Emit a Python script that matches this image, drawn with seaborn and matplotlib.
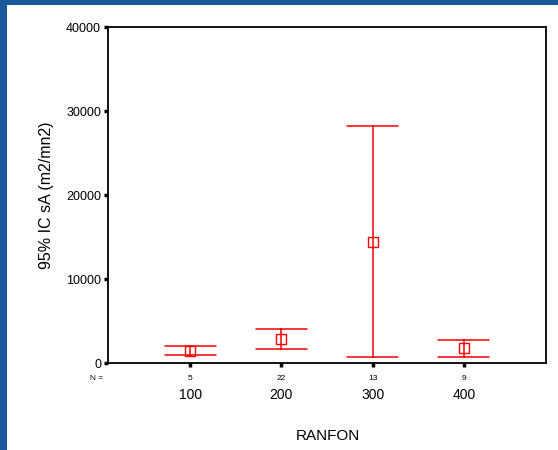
import matplotlib
matplotlib.use("Agg")
import matplotlib.pyplot as plt
import matplotlib.patches as mpatches
import seaborn as sns
import pandas as pd

# values: 95% CI lower, mean, upper per group
groups = ["100", "200", "300", "400"]
counts = [5, 22, 13, 9]
ci_low = [1000, 1700, 700, 750]
means = [1450, 2800, 14400, 1800]
ci_high = [2000, 4050, 28200, 2700]
y_ticks = [0, 10000, 20000, 30000, 40000]

# three rows per group; median + full range gives back mean and CI ends
rows = []
for g, lo, m, hi in zip(groups, ci_low, means, ci_high):
    for v in (lo, m, hi):
        rows.append({"RANFON": g, "sA": v})
df = pd.DataFrame(rows)

sns.set_theme(style="white")
plt.rcParams["font.family"] = ["Liberation Sans", "DejaVu Sans"]
plt.rcParams["text.color"] = "black"
plt.rcParams["axes.labelcolor"] = "black"
plt.rcParams["xtick.color"] = "black"
plt.rcParams["ytick.color"] = "black"

fig = plt.figure(figsize=(5.58, 4.5), dpi=100)
fig.patch.set_facecolor("#1b5a9a")
fig.add_artist(mpatches.Rectangle((0.0125, 0), 0.9875, 0.989, transform=fig.transFigure,
                                  facecolor="white", edgecolor="none", zorder=-10))
ax = fig.add_axes([0.1935, 0.1933, 0.785, 0.7467])
ax.set_facecolor("white")

sns.pointplot(data=df, x="RANFON", y="sA", order=groups, estimator="median",
              errorbar=("pi", 100), color="red", marker="s", linestyle="none",
              markersize=6.5, markerfacecolor="none", markeredgewidth=1,
              capsize=0.56, err_kws={"linewidth": 1.1}, ax=ax)

ax.set_xlim(-0.9, 3.9)
ax.set_ylim(0, 40000)
ax.set_yticks(y_ticks)
ax.set_yticklabels([str(t) for t in y_ticks], fontsize=9)
ax.set_xticklabels(groups, fontsize=10)
ax.tick_params(axis="both", direction="out", length=3, width=2.5, left=True, bottom=True)
ax.tick_params(axis="x", pad=15)
ax.tick_params(axis="y", pad=2)
for s in ax.spines.values():
    s.set_color("black")
    s.set_linewidth(1.3)

# N row under the axis
ax.text(-0.025, -0.045, "N =", transform=ax.transAxes, ha="center", va="center", fontsize=6)
for i, n in enumerate(counts):
    ax.text(i, -0.045, str(n), transform=ax.get_xaxis_transform(), ha="center", va="center", fontsize=6)

ax.set_xlabel("RANFON", fontsize=11)
ax.set_ylabel("95% IC sA (m2/mn2)", fontsize=11.5)
ax.xaxis.set_label_coords(0.502, -0.195)
ax.yaxis.set_label_coords(-0.123, 0.5)

fig.savefig("out.png", dpi=100, facecolor=fig.get_facecolor())
